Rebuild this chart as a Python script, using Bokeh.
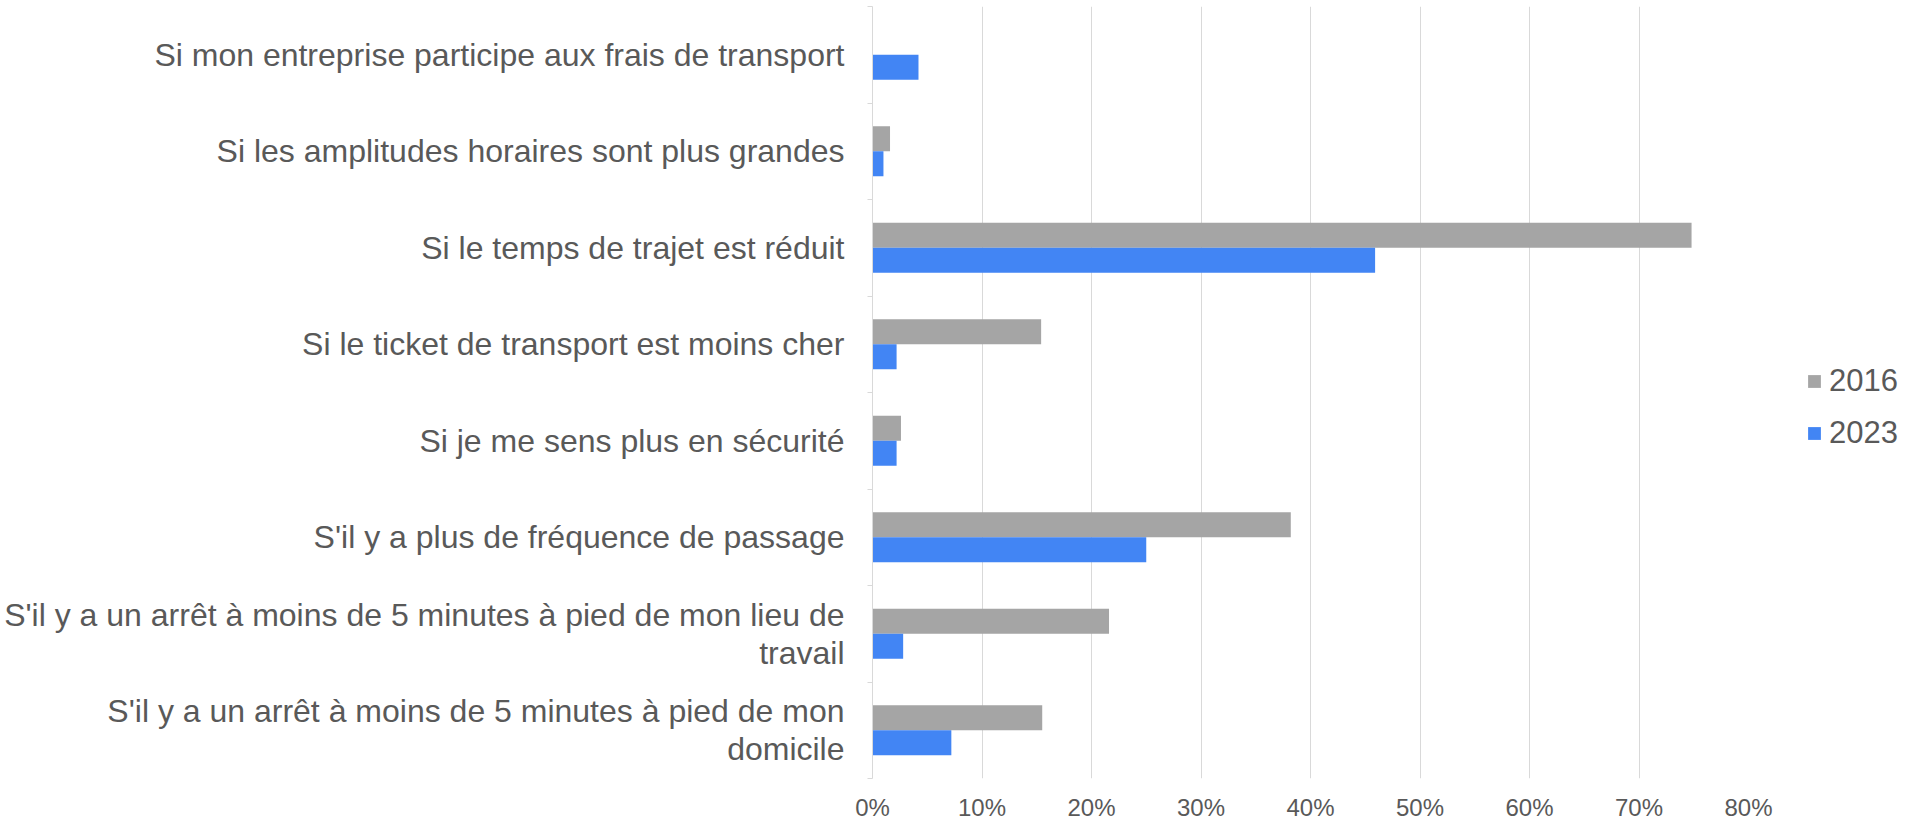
from bokeh.plotting import figure
from bokeh.models import (Range1d, FixedTicker, NumeralTickFormatter, Legend, LegendItem,
                          ColumnDataSource)
from bokeh.embed import file_html
from bokeh.resources import INLINE

# ---- data (top to bottom as displayed) ----
categories = [
    "Si mon entreprise participe aux frais de transport",
    "Si les amplitudes horaires sont plus grandes",
    "Si le temps de trajet est réduit",
    "Si le ticket de transport est moins cher",
    "Si je me sens plus en sécurité",
    "S'il y a plus de fréquence de passage",
    "S'il y a un arrêt à moins de 5 minutes à pied de mon lieu de\ntravail",
    "S'il y a un arrêt à moins de 5 minutes à pied de mon\ndomicile",
]
years = ["2016", "2023"]
values_2016 = [0.0, 0.016, 0.748, 0.154, 0.026, 0.382, 0.216, 0.155]
values_2023 = [0.042, 0.010, 0.459, 0.022, 0.022, 0.250, 0.028, 0.072]
x_ticks = [0, 0.1, 0.2, 0.3, 0.4, 0.5, 0.6, 0.7, 0.8]

FONT = "Liberation Sans"
TXT = "#595959"
GRID = "#d9d9d9"
COL_2016 = "#a5a5a5"
COL_2023 = "#4285f4"

n = len(categories)
bar_h = 0.26
# category slot (0 = bottom); top category listed first
slot = [n - 1 - i + 0.5 for i in range(n)]
src = ColumnDataSource(dict(
    cat=categories,
    y16=[s + bar_h / 2 for s in slot],
    y23=[s - bar_h / 2 for s in slot],
    v2016=values_2016, v2023=values_2023))

p = figure(y_range=Range1d(0, n), x_range=Range1d(0, 0.8),
           frame_width=876, frame_height=772,
           min_border_top=6, min_border_left=872, min_border_right=165, min_border_bottom=0,
           output_backend="svg", toolbar_location=None)
p.outline_line_color = None
p.background_fill_color = "white"

r16 = p.hbar(y="y16", right="v2016", left=0, height=bar_h,
             source=src, fill_color=COL_2016, line_color=None)
r23 = p.hbar(y="y23", right="v2023", left=0, height=bar_h,
             source=src, fill_color=COL_2023, line_color=None)

# x axis
xa = p.xaxis[0]
xa.ticker = FixedTicker(ticks=x_ticks)
xa.formatter = NumeralTickFormatter(format="0%")
xa.axis_line_color = None
xa.major_tick_line_color = None
xa.minor_tick_line_color = None
xa.major_label_text_font = FONT
xa.major_label_text_font_size = "24px"
xa.major_label_text_color = TXT
xa.major_label_standoff = 9

p.xgrid.ticker = FixedTicker(ticks=x_ticks)
p.xgrid.grid_line_color = GRID
p.xgrid.grid_line_width = 1
p.ygrid.grid_line_color = None

# y axis: labels at category centres, small ticks at category boundaries
ya = p.yaxis[0]
ya.ticker = FixedTicker(ticks=slot, minor_ticks=list(range(n + 1)))
ya.major_label_overrides = {s: c for s, c in zip(slot, categories)}
ya.axis_line_color = GRID
ya.major_tick_line_color = None
ya.major_tick_out = 0
ya.major_tick_in = 0
ya.minor_tick_line_color = GRID
ya.minor_tick_out = 5
ya.minor_tick_in = 0
ya.major_label_text_font = FONT
ya.major_label_text_font_size = "32px"
ya.major_label_text_color = TXT
ya.major_label_text_line_height = 1.05
ya.major_label_standoff = 23

legend = Legend(items=[LegendItem(label=years[0], renderers=[r16]),
                       LegendItem(label=years[1], renderers=[r23])],
                location=(58, 327), orientation="vertical",
                glyph_width=16, glyph_height=16, label_standoff=7,
                label_text_font=FONT, label_text_font_size="31px", label_text_color=TXT,
                label_height=26, spacing=16, padding=0, margin=0,
                border_line_color=None, background_fill_alpha=0)
p.add_layout(legend, "right")

open("out.html", "w").write(file_html(p, INLINE))
